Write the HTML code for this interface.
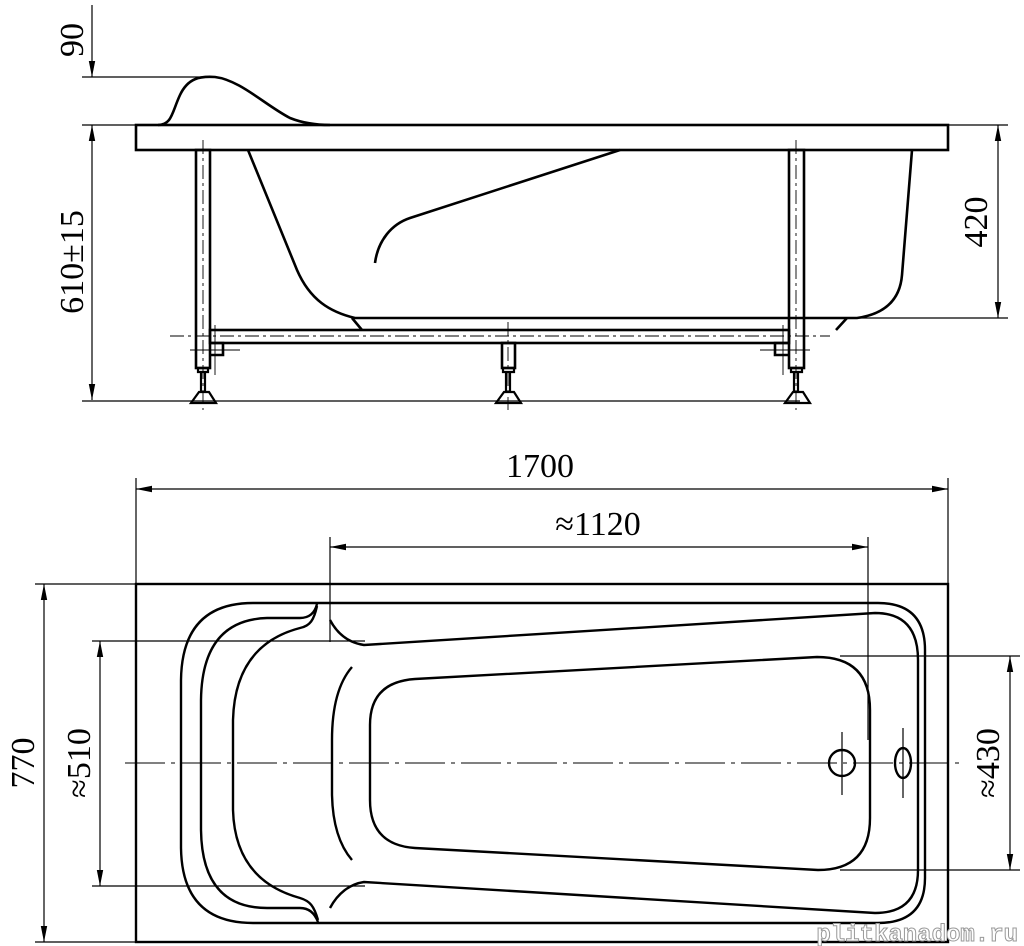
<!DOCTYPE html>
<html><head><meta charset="utf-8"><style>html,body{margin:0;padding:0;background:#fff}svg{display:block}</style></head>
<body>
<svg width="1024" height="946" viewBox="0 0 1024 946" xmlns="http://www.w3.org/2000/svg">
<defs>
<marker id="a" viewBox="0 0 10 10" refX="10" refY="5" markerWidth="16" markerHeight="16" markerUnits="userSpaceOnUse" orient="auto-start-reverse"><path d="M0,3 L10,5 L0,7 Z" fill="#000"/></marker>
</defs>
<g fill="none" stroke="#000">
<g stroke-width="1.2">
<line x1="92" y1="5" x2="92" y2="77" marker-end="url(#a)"/>
<line x1="82" y1="77" x2="205" y2="77"/>
<line x1="82" y1="125" x2="136" y2="125"/>
<line x1="92" y1="125" x2="92" y2="400" marker-start="url(#a)" marker-end="url(#a)"/>
<line x1="82" y1="401" x2="800" y2="401"/>
<line x1="948" y1="125" x2="1008" y2="125"/>
<line x1="857" y1="318" x2="1008" y2="318"/>
<line x1="998" y1="125" x2="998" y2="318" marker-start="url(#a)" marker-end="url(#a)"/>
</g>
<g stroke-width="2.6">
<rect x="136" y="125" width="812" height="25"/>
<path d="M158,125 C172,125 172,112 180,95 C188,78 200,76 215,77 C240,80 265,105 290,118 C305,124 320,125 330,125"/>
<path d="M248,150 L297,270 C310,300 330,312 355,318 L857,318 C885,314 900,300 902,275 L912,150"/>
<path d="M352,318 L362,330 M847,318 L836,330"/>
<path d="M375,263 C378,240 392,224 410,218 L620,150"/>
<rect x="196" y="150" width="14" height="218"/>
<rect x="789" y="150" width="15" height="218"/>
<rect x="502" y="343" width="13" height="25"/>
<rect x="210" y="330" width="579" height="13"/>
<path d="M210,343 L223,343 L223,355 L210,355 M789,343 L775,343 L775,355 L789,355"/>
</g>
<g stroke-width="2.2">
<path d="M198,368 h10 v4 h-10z M201,372 v20 M205,372 v20 M191,403 L199,392 L209,392 L216,403 Z"/>
<path d="M503,368 h11 v4 h-11z M506,372 v20 M510,372 v20 M496,403 L504,392 L514,392 L521,403 Z"/>
<path d="M791,368 h11 v4 h-11z M794,372 v20 M798,372 v20 M785,403 L793,392 L803,392 L810,403 Z"/>
</g>
<g stroke-width="0.9" stroke-dasharray="14,4,3,4">
<line x1="203" y1="140" x2="203" y2="410"/>
<line x1="796" y1="140" x2="796" y2="410"/>
<line x1="508" y1="322" x2="508" y2="410"/>
<line x1="170" y1="336" x2="830" y2="336"/>
</g>
<g stroke-width="0.9">
<line x1="190" y1="350" x2="240" y2="350"/><line x1="215" y1="325" x2="215" y2="375"/>
<line x1="760" y1="350" x2="810" y2="350"/><line x1="783" y1="325" x2="783" y2="375"/>
</g>
<g stroke-width="1.2">
<line x1="136" y1="478" x2="136" y2="584"/>
<line x1="948" y1="478" x2="948" y2="584"/>
<line x1="136" y1="489" x2="948" y2="489" marker-start="url(#a)" marker-end="url(#a)"/>
<line x1="330" y1="537" x2="330" y2="642"/>
<line x1="868" y1="537" x2="868" y2="740"/>
<line x1="330" y1="547" x2="868" y2="547" marker-start="url(#a)" marker-end="url(#a)"/>
<line x1="35" y1="584" x2="136" y2="584"/>
<line x1="35" y1="942" x2="136" y2="942"/>
<line x1="44" y1="584" x2="44" y2="942" marker-start="url(#a)" marker-end="url(#a)"/>
<line x1="92" y1="641" x2="365" y2="641"/>
<line x1="92" y1="886" x2="365" y2="886"/>
<line x1="100" y1="641" x2="100" y2="886" marker-start="url(#a)" marker-end="url(#a)"/>
<line x1="840" y1="656" x2="1020" y2="656"/>
<line x1="840" y1="870" x2="1020" y2="870"/>
<line x1="1010" y1="656" x2="1010" y2="870" marker-start="url(#a)" marker-end="url(#a)"/>
<line x1="842" y1="732" x2="842" y2="795"/>
<line x1="903" y1="728" x2="903" y2="798"/>
</g>
<line x1="125" y1="763" x2="962" y2="763" stroke-width="0.9" stroke-dasharray="40,6,4,6"/>
<g stroke-width="2.4">
<rect x="136" y="584" width="812" height="358"/>
<path d="M318,603 L878,603 Q925,603 925,650 L925,878 Q925,923 878,923 L318,923"/>
<path d="M318,603 L253,603 Q182,603 181,680 L181,848 Q182,923 253,923 L318,923"/>
<path d="M317,604 C315,612 310,618 300,618 L267,618 Q202,620 201,700 L201,830 Q202,908 267,908 L300,908 C310,908 315,914 318,922"/>
<path d="M317,606 C314,620 310,626 300,628 Q235,645 233,720 L233,810 Q235,880 300,898 C310,901 314,906 318,920"/>
<path d="M330,620 C338,635 350,643 364,645 L875,613 Q918,613 918,660 L918,870 Q918,913 875,913 L364,882 C350,884 338,893 330,908"/>
<path d="M415,679 L817,657 Q870,657 870,710 L870,818 Q870,870 818,870 L415,848 Q370,845 370,800 L370,725 Q370,682 415,679 Z"/>
<path d="M352,667 Q332,690 332,740 L332,795 Q333,838 352,860"/>
<circle cx="842" cy="763" r="13"/>
<ellipse cx="903" cy="763" rx="8" ry="15"/>
</g>
</g>
<g font-family="'Liberation Serif', serif" font-size="34" fill="#000">
<text x="540" y="477" text-anchor="middle">1700</text>
<text x="598" y="535" text-anchor="middle">≈1120</text>
<text transform="translate(83,40) rotate(-90)" text-anchor="middle">90</text>
<text transform="translate(83,262) rotate(-90)" text-anchor="middle">610±15</text>
<text transform="translate(987,222) rotate(-90)" text-anchor="middle">420</text>
<text transform="translate(34,763) rotate(-90)" text-anchor="middle">770</text>
<text transform="translate(90,763) rotate(-90)" text-anchor="middle">≈510</text>
<text transform="translate(999,763) rotate(-90)" text-anchor="middle">≈430</text>
</g>
<text x="1018" y="941" text-anchor="end" font-family="'Liberation Mono', monospace" font-size="24" font-weight="bold" fill="#fff" stroke="#999" stroke-width="1">plitkanadom.ru</text>
</svg>
</body></html>
